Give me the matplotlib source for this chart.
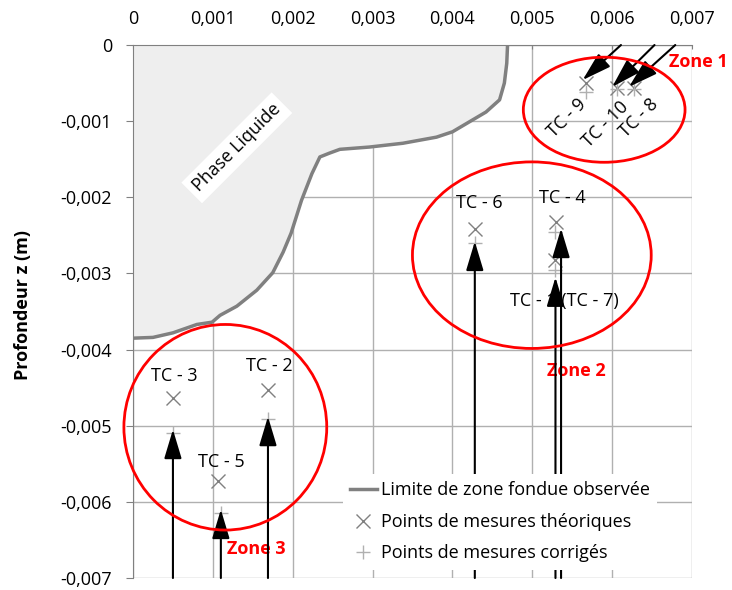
import matplotlib.pyplot as plt
from matplotlib.patches import Ellipse
from matplotlib.ticker import FuncFormatter

plt.rcParams['font.family'] = ['Open Sans', 'DejaVu Sans']

# observed melt zone boundary
bound_x = [0, 0.00025, 0.0005, 0.0008, 0.00099, 0.00109, 0.0013, 0.00155, 0.00175, 0.00188,
           0.00198, 0.00211, 0.00224, 0.00234, 0.00246, 0.00259, 0.00296, 0.00338, 0.0038,
           0.004, 0.00421, 0.00442, 0.00459, 0.00465, 0.00468, 0.00469]
bound_y = [-0.00385, -0.00384, -0.00378, -0.00367, -0.00364, -0.00355, -0.00343, -0.00322,
           -0.00299, -0.00272, -0.00247, -0.00204, -0.00169, -0.00147, -0.00142, -0.00137,
           -0.00134, -0.00129, -0.00121, -0.00114, -0.00101, -0.00088, -0.00072, -0.0005,
           -0.00024, 0]

# thermocouples
tc_names = ["TC - 3", "TC - 2", "TC - 5", "TC - 6", "TC - 4", "TC - 1", "TC - 9", "TC - 10", "TC - 8"]
theo_x = [0.0005, 0.00169, 0.00107, 0.00428, 0.0053, 0.00528, 0.00567, 0.00606, 0.00627]
theo_y = [-0.00463, -0.00453, -0.00572, -0.00242, -0.00232, -0.00282, -0.0005, -0.00056, -0.00056]
corr_x = [0.0005, 0.00169, 0.00110, 0.00428, 0.00529, 0.00528, 0.00567, 0.00606, 0.00627]
corr_y = [-0.00509, -0.00491, -0.00614, -0.0026, -0.00246, -0.00295, -0.00062, -0.00058, -0.00058]

# arrows (start -> tip)
arr_x0 = [0.0005, 0.00169, 0.00110, 0.00428, 0.00536, 0.00529, 0.00611, 0.00653, 0.00679]
arr_y0 = [-0.007, -0.007, -0.007, -0.007, -0.007, -0.007, 0, 0, 0]
arr_x1 = [0.0005, 0.00169, 0.00110, 0.00428, 0.00536, 0.00529, 0.00563, 0.006, 0.00621]
arr_y1 = [-0.00505, -0.00488, -0.00610, -0.00258, -0.00241, -0.00305, -0.00046, -0.00055, -0.00055]

# zones
zone_names = ["Zone 1", "Zone 2", "Zone 3"]
zone_cx = [0.0059, 0.004994, 0.001156]
zone_cy = [-0.00085, -0.00276, -0.00502]
zone_w = [0.002025, 0.00299, 0.00254]
zone_h = [0.00138, 0.00245, 0.0027]

fs = 13

fig = plt.figure(figsize=(7.32, 5.9), dpi=100)
ax = fig.add_axes([0.1817, 0.0203, 0.7637, 0.9034])

# liquid phase fill
ax.fill(bound_x + [0], bound_y + [0], color='#eeeeee', zorder=1)
ax.plot(bound_x, bound_y, color='#808080', lw=2.5, zorder=3, label="Limite de zone fondue observée")

ax.plot(theo_x, theo_y, 'x', color='#808080', ms=10, mew=1, zorder=4, label="Points de mesures théoriques")
ax.plot(corr_x, corr_y, '+', color='#b0b0b0', ms=10, mew=1, zorder=4, label="Points de mesures corrigés")

for i in range(len(arr_x0)):
    ax.annotate("", xy=(arr_x1[i], arr_y1[i]), xytext=(arr_x0[i], arr_y0[i]),
                arrowprops=dict(arrowstyle="-|>,head_length=1.0,head_width=0.3", mutation_scale=18,
                                color='black', lw=1.5, shrinkA=0, shrinkB=0),
                annotation_clip=False, zorder=5)

for i in range(3):
    ax.add_patch(Ellipse((zone_cx[i], zone_cy[i]), zone_w[i], zone_h[i], fill=False,
                         edgecolor='red', lw=2, clip_on=False, zorder=6))

# text labels
ax.text(0.00052, -0.00435, tc_names[0], ha='center', va='center', fontsize=fs)
ax.text(0.00171, -0.00422, tc_names[1], ha='center', va='center', fontsize=fs)
ax.text(0.00111, -0.00548, tc_names[2], ha='center', va='center', fontsize=fs)
ax.text(0.00434, -0.00208, tc_names[3], ha='center', va='center', fontsize=fs)
ax.text(0.00538, -0.00201, tc_names[4], ha='center', va='center', fontsize=fs)
ax.text(0.0054, -0.00336, tc_names[5] + " (TC - 7)", ha='center', va='center', fontsize=fs)
ax.text(0.00543, -0.00096, tc_names[6], ha='center', va='center', fontsize=fs, rotation=45)
ax.text(0.00592, -0.00104, tc_names[7], ha='center', va='center', fontsize=fs, rotation=45)
ax.text(0.00634, -0.00096, tc_names[8], ha='center', va='center', fontsize=fs, rotation=45)

ax.text(0.00708, -0.00022, zone_names[0], color='red', fontweight='bold', ha='center', va='center', fontsize=fs)
ax.text(0.00555, -0.00428, zone_names[1], color='red', fontweight='bold', ha='center', va='center', fontsize=fs)
ax.text(0.00154, -0.00662, zone_names[2], color='red', fontweight='bold', ha='center', va='center', fontsize=fs)

ax.text(0.00130, -0.00135, "Phase Liquide", rotation=45, ha='center', va='center', fontsize=fs,
        bbox=dict(facecolor='white', edgecolor='none', pad=4), zorder=2)

ax.set_xlim(0, 0.007)
ax.set_ylim(-0.007, 0)
ax.xaxis.tick_top()
ax.set_xticks([0, 0.001, 0.002, 0.003, 0.004, 0.005, 0.006, 0.007])
ax.set_yticks([0, -0.001, -0.002, -0.003, -0.004, -0.005, -0.006, -0.007])
fmt = FuncFormatter(lambda v, p: "0" if abs(v) < 1e-12 else ("%.3f" % v).replace(".", ","))
ax.xaxis.set_major_formatter(fmt)
ax.yaxis.set_major_formatter(fmt)
ax.tick_params(labelsize=fs, color='#808080')
ax.tick_params(axis='y', length=5, pad=10)
ax.tick_params(axis='x', direction='in', length=3, pad=12)
ax.grid(True, color='#b0b0b0', lw=1)
ax.set_axisbelow(True)
for s in ['right', 'bottom']:
    ax.spines[s].set_visible(False)
for s in ['left', 'top']:
    ax.spines[s].set_color('#808080')

ax.set_ylabel("Profondeur z (m)", fontsize=fs, fontweight='bold')
ax.yaxis.set_label_coords(-0.181, 0.512)

leg = ax.legend(loc='upper left', bbox_to_anchor=(0.375, 0.195), frameon=True, fontsize=fs,
                handlelength=1.5, handletextpad=0.2, labelspacing=0.75, borderaxespad=0)
leg.get_frame().set_facecolor('white')
leg.get_frame().set_edgecolor('none')
leg.get_frame().set_alpha(1)
leg.set_zorder(7)

fig.savefig("out.png", dpi=100)
